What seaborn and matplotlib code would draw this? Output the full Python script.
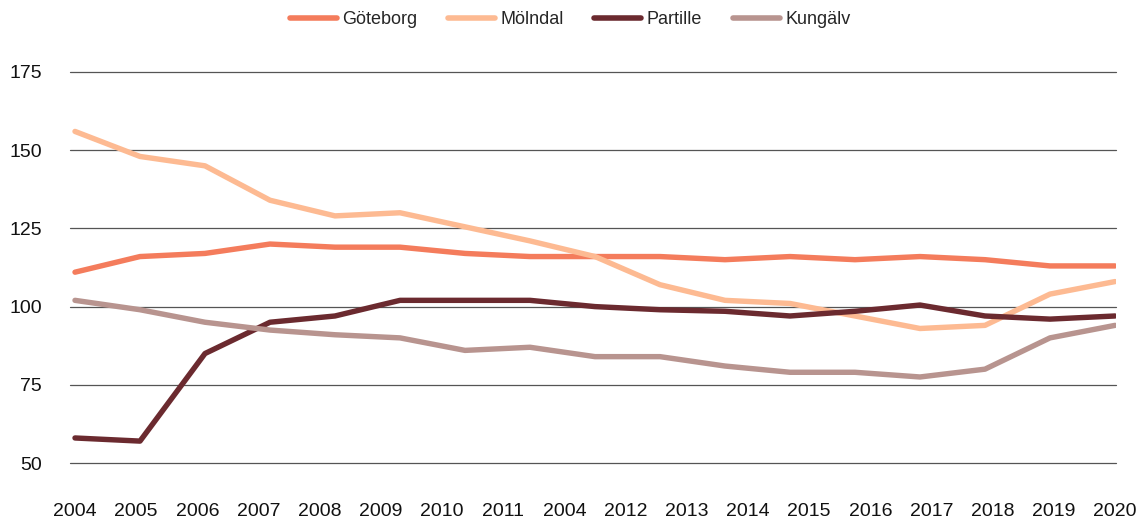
import numpy as np
import pandas as pd
import matplotlib
matplotlib.use("Agg")
import matplotlib.pyplot as plt
import seaborn as sns

# Data (17 points per series)
goteborg = [111, 116, 117, 120, 119, 119, 117, 116, 116, 116, 115, 116, 115, 116, 115, 113, 113]
molndal = [156, 148, 145, 134, 129, 130, 125.5, 121, 116, 107, 102, 101, 97, 93, 94, 104, 108]
partille = [58, 57, 85, 95, 97, 102, 102, 102, 100, 99, 98.5, 97, 98.5, 100.5, 97, 96, 97]
kungalv = [102, 99, 95, 92.5, 91, 90, 86, 87, 84, 84, 81, 79, 79, 77.5, 80, 90, 94]

# x tick labels as they appear (18 labels, incl. the stray 2004)
tick_labels = ["2004", "2005", "2006", "2007", "2008", "2009", "2010", "2011", "2004",
               "2012", "2013", "2014", "2015", "2016", "2017", "2018", "2019", "2020"]
y_ticks = [50, 75, 100, 125, 150, 175]

series_names = ["Göteborg", "Mölndal", "Partille", "Kungälv"]
colors = ["#F47C5C", "#FDBA92", "#6B2A2F", "#B8948F"]

# Long-format table for seaborn
n = len(goteborg)
df = pd.DataFrame({
    "idx": np.tile(np.arange(n), 4),
    "value": goteborg + molndal + partille + kungalv,
    "kommun": np.repeat(series_names, n),
})

sns.set_theme(style="white")
plt.rcParams["font.family"] = ["Liberation Sans", "DejaVu Sans"]

fig = plt.figure(figsize=(11.4, 5.2), dpi=100)
ax = fig.add_axes([70 / 1140, 1 - 463 / 520, 1046 / 1140, 391 / 520])

# Horizontal grid lines
for yv in y_ticks:
    ax.axhline(yv, color="#555555", lw=0.9, zorder=0, clip_on=False)

sns.lineplot(data=df, x="idx", y="value", hue="kommun", palette=colors,
             hue_order=series_names, linewidth=3.9, ax=ax, legend=False,
             zorder=3)
for line in ax.get_lines():
    line.set_solid_capstyle("round")
    line.set_solid_joinstyle("round")

ax.set_xlim(-5 / 65, (n - 1) + 1 / 65)
ax.set_ylim(50, 175)
ax.set_yticks(y_ticks)
ax.set_yticklabels([str(v) for v in y_ticks], fontsize=14, color="#111111")
ax.set_xticks(np.linspace(0, n - 1, len(tick_labels)))
ax.set_xticklabels(tick_labels, fontsize=14, color="#111111")
ax.tick_params(axis="y", length=0, pad=20)
ax.tick_params(axis="x", length=0, pad=29)
ax.set_xlabel("")
ax.set_ylabel("")
for s in ax.spines.values():
    s.set_visible(False)

# Legend at the top
handles = [plt.Line2D([0], [0], color=c, lw=4, solid_capstyle="round") for c in colors]
fig.legend(handles, series_names, loc="upper center", bbox_to_anchor=(0.5, 1.01),
           ncol=4, frameon=False, fontsize=13, handlelength=2.6,
           handletextpad=0.3, columnspacing=1.7)

fig.savefig("out.png", dpi=100)
